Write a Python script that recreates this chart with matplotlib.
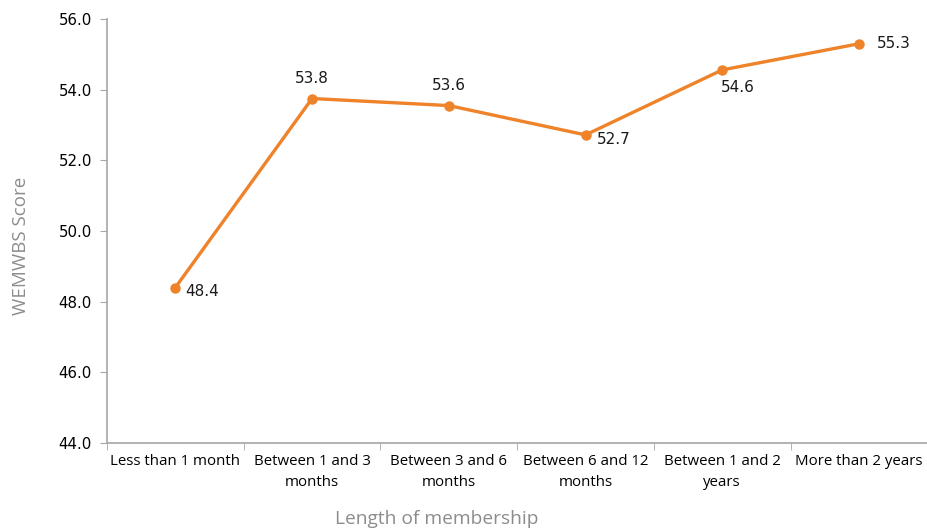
import matplotlib
matplotlib.use("Agg")
import matplotlib.pyplot as plt

categories = ["Less than 1 month", "Between 1 and 3\nmonths", "Between 3 and 6\nmonths",
              "Between 6 and 12\nmonths", "Between 1 and 2\nyears", "More than 2 years"]
scores = [48.4, 53.75, 53.55, 52.72, 54.56, 55.3]
score_labels = ["48.4", "53.8", "53.6", "52.7", "54.6", "55.3"]
yticks = [44.0, 46.0, 48.0, 50.0, 52.0, 54.0, 56.0]

orange = "#EE8329"
axis_grey = "#A6A6A6"

fig = plt.figure(figsize=(9.28, 5.31), dpi=100)
ax = fig.add_axes([0.1153, 0.1657, 0.884, 0.7985])

x = list(range(len(categories)))
ax.plot(x, scores, color=orange, lw=2.4, marker="o", ms=6.5, zorder=3)

# where each value label sits relative to its point
offsets = [(7, -3, "left", "center"), (0, 9, "center", "bottom"), (0, 9, "center", "bottom"),
           (8, -3, "left", "center"), (-1, -7, "left", "top"), (13, 0, "left", "center")]
for xi, yi, lab, (dx, dy, ha, va) in zip(x, scores, score_labels, offsets):
    ax.annotate(lab, (xi, yi), xytext=(dx, dy), textcoords="offset points",
                ha=ha, va=va, fontsize=11, family="DejaVu Sans", color="#1a1a1a")

ax.set_xlim(-0.5, len(categories) - 0.5)
ax.set_ylim(44, 56)
ax.set_yticks(yticks)
ax.set_yticklabels(["%.1f" % v for v in yticks], fontsize=10.8, family="DejaVu Sans")

ax.set_xticks(x)
ax.set_xticklabels(categories, fontsize=10.8, family="Open Sans", linespacing=1.55)
ax.tick_params(axis="x", length=0, pad=8)
ax.set_xticks([i + 0.5 for i in range(-1, len(categories))], minor=True)
ax.tick_params(axis="x", which="minor", length=5, color=axis_grey, direction="out")
ax.tick_params(axis="y", length=5, color=axis_grey, pad=6)

for side in ["top", "right"]:
    ax.spines[side].set_visible(False)
for side in ["left", "bottom"]:
    ax.spines[side].set_color(axis_grey)
    ax.spines[side].set_linewidth(1.2)

ax.set_ylabel("WEMWBS Score", fontsize=13.5, color="#8c8c8c", family="Open Sans")
ax.set_xlabel("Length of membership", fontsize=13.8, color="#8c8c8c", family="Open Sans")
ax.xaxis.set_label_coords(0.402, -0.158)
ax.yaxis.set_label_coords(-0.094, 0.465)

fig.savefig("out.png", dpi=100)
